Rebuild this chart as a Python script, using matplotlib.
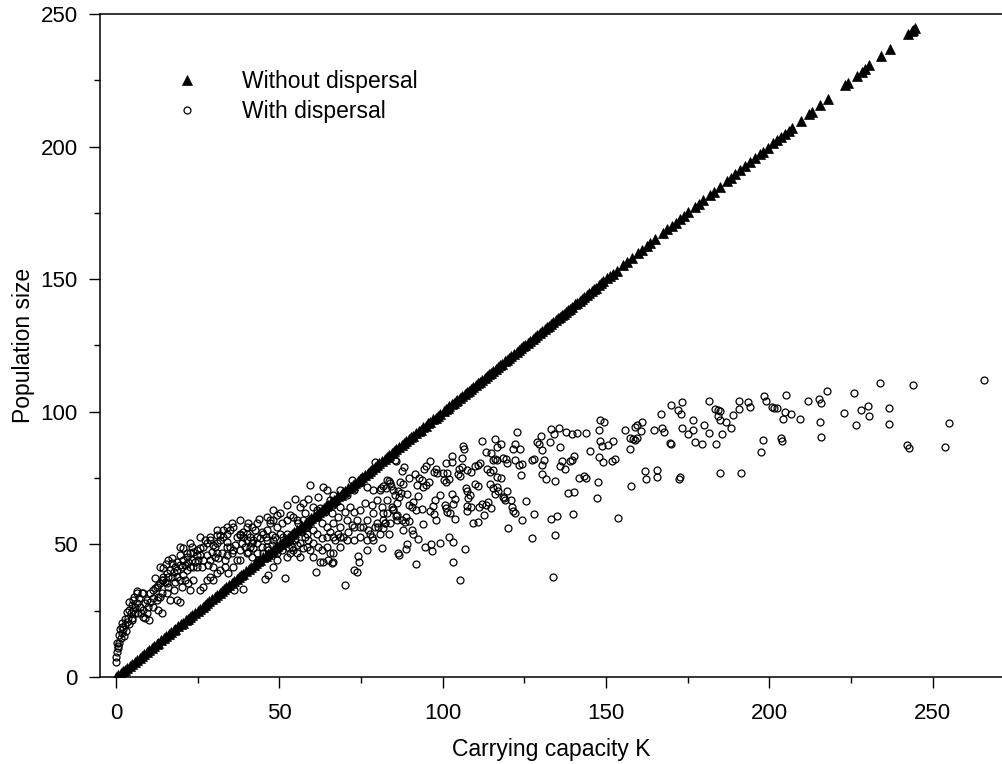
import matplotlib
matplotlib.use("Agg")
import matplotlib.pyplot as plt
from matplotlib.ticker import MultipleLocator

plt.rcParams["font.family"] = ["Liberation Sans", "DejaVu Sans"]

# Without dispersal: population sits on the K line
k_without = [
    0.0, 0.6, 1.4, 2.1, 2.7, 3.5, 4.3, 4.9, 5.8, 6.4,
    7.2, 8.0, 8.5, 9.4, 10.1, 10.9, 11.5, 12.4, 13.0, 13.9,
    14.6, 15.3, 16.1, 16.8, 17.6, 18.2, 19.1, 19.8, 20.5, 21.3,
    22.0, 22.8, 23.4, 24.3, 25.0, 25.7, 26.5, 27.2, 28.0, 28.6,
    29.5, 30.2, 30.9, 31.7, 32.4, 33.2, 33.8, 34.7, 35.4, 36.1,
    36.9, 37.6, 38.4, 39.0, 39.9, 40.6, 41.3, 42.1, 42.8, 43.6,
    44.2, 45.1, 45.8, 46.5, 47.3, 48.0, 48.8, 49.4, 50.3, 51.0,
    51.7, 52.5, 53.2, 54.0, 54.6, 55.5, 56.2, 56.9, 57.7, 58.4,
    59.2, 59.8, 60.7, 61.4, 62.1, 62.9, 63.6, 64.4, 65.0, 65.9,
    66.6, 67.3, 68.1, 68.8, 69.6, 70.2, 71.1, 71.8, 72.5, 73.3,
    74.0, 74.8, 75.4, 76.3, 77.0, 77.7, 78.5, 79.2, 80.0, 80.6,
    81.5, 82.2, 82.9, 83.7, 84.4, 85.2, 85.8, 86.7, 87.4, 88.1,
    88.9, 89.6, 90.4, 91.0, 91.9, 92.6, 93.3, 94.1, 94.8, 95.6,
    96.2, 97.1, 97.8, 98.5, 99.3,
    100.9, 102.0, 103.4, 104.5, 105.3, 106.8, 107.9, 108.7, 110.2, 111.3,
    112.1, 113.6, 114.8, 115.5, 117.0, 118.2, 119.1, 120.4, 121.7, 122.6,
    124.0, 125.3, 126.1, 127.5, 128.9, 129.8, 131.2, 132.4, 133.1, 134.7,
    135.9, 137.0, 138.2, 139.6, 140.5, 141.9, 143.3, 144.1, 145.6, 146.8,
    147.7, 149.2, 151.2, 152.0, 153.2, 155.3, 156.4, 157.8, 159.9, 161.0,
    162.4, 163.6, 165.0, 167.5, 168.8, 170.1, 171.3, 172.6, 174.0, 175.2,
    177.2, 178.5, 179.8, 181.8, 183.0, 184.9, 186.9, 188.2, 189.5, 191.0,
    192.5, 194.1, 195.6, 197.1, 198.1, 199.6, 201.2, 202.3, 203.7, 204.8,
    206.0, 207.0, 209.7, 212.1, 213.0, 215.5, 217.8, 223.1, 224.0, 226.7,
    228.2, 229.3, 230.6, 234.3, 236.9, 242.5, 243.5, 243.9, 244.6,
    100.3, 101.5, 102.8, 104.0, 106.0, 107.3, 109.4, 110.8, 112.8, 114.2,
    116.2, 117.6, 119.7, 121.0, 123.3, 124.7, 126.8, 128.2, 130.5, 131.8,
    133.9, 135.2, 136.4, 137.6, 138.9, 141.2, 142.6, 144.8, 146.2, 148.4,
    150.3,
]
pop_without = [
    0.0, 0.6, 1.4, 2.1, 2.7, 3.5, 4.3, 4.9, 5.8, 6.4,
    7.2, 8.0, 8.5, 9.4, 10.1, 10.9, 11.5, 12.4, 13.0, 13.9,
    14.6, 15.3, 16.1, 16.8, 17.6, 18.2, 19.1, 19.8, 20.5, 21.3,
    22.0, 22.8, 23.4, 24.3, 25.0, 25.7, 26.5, 27.2, 28.0, 28.6,
    29.5, 30.2, 30.9, 31.7, 32.4, 33.2, 33.8, 34.7, 35.4, 36.1,
    36.9, 37.6, 38.4, 39.0, 39.9, 40.6, 41.3, 42.1, 42.8, 43.6,
    44.2, 45.1, 45.8, 46.5, 47.3, 48.0, 48.8, 49.4, 50.3, 51.0,
    51.7, 52.5, 53.2, 54.0, 54.6, 55.5, 56.2, 56.9, 57.7, 58.4,
    59.2, 59.8, 60.7, 61.4, 62.1, 62.9, 63.6, 64.4, 65.0, 65.9,
    66.6, 67.3, 68.1, 68.8, 69.6, 70.2, 71.1, 71.8, 72.5, 73.3,
    74.0, 74.8, 75.4, 76.3, 77.0, 77.7, 78.5, 79.2, 80.0, 80.6,
    81.5, 82.2, 82.9, 83.7, 84.4, 85.2, 85.8, 86.7, 87.4, 88.1,
    88.9, 89.6, 90.4, 91.0, 91.9, 92.6, 93.3, 94.1, 94.8, 95.6,
    96.2, 97.1, 97.8, 98.5, 99.3,
    100.9, 102.0, 103.4, 104.5, 105.3, 106.8, 107.9, 108.7, 110.2, 111.3,
    112.1, 113.6, 114.8, 115.5, 117.0, 118.2, 119.1, 120.4, 121.7, 122.6,
    124.0, 125.3, 126.1, 127.5, 128.9, 129.8, 131.2, 132.4, 133.1, 134.7,
    135.9, 137.0, 138.2, 139.6, 140.5, 141.9, 143.3, 144.1, 145.6, 146.8,
    147.7, 149.2, 151.2, 152.0, 153.2, 155.3, 156.4, 157.8, 159.9, 161.0,
    162.4, 163.6, 165.0, 167.5, 168.8, 170.1, 171.3, 172.6, 174.0, 175.2,
    177.2, 178.5, 179.8, 181.8, 183.0, 184.9, 186.9, 188.2, 189.5, 191.0,
    192.5, 194.1, 195.6, 197.1, 198.1, 199.6, 201.2, 202.3, 203.7, 204.8,
    206.0, 207.0, 209.7, 212.1, 213.0, 215.5, 217.8, 223.1, 224.0, 226.7,
    228.2, 229.3, 230.6, 234.3, 236.9, 242.5, 243.5, 243.9, 244.6,
    100.3, 101.5, 102.8, 104.0, 106.0, 107.3, 109.4, 110.8, 112.8, 114.2,
    116.2, 117.6, 119.7, 121.0, 123.3, 124.7, 126.8, 128.2, 130.5, 131.8,
    133.9, 135.2, 136.4, 137.6, 138.9, 141.2, 142.6, 144.8, 146.2, 148.4,
    150.3,
]

# With dispersal: scattered cloud
k_with = [
    -0.1, 0.0, 0.4, 0.7, 1.0, 1.4, 1.7, 2.2, 1.8, 2.8,
    3.3, 3.8, 4.5, 4.1, 5.3, 5.8, 6.3, 7.1, 7.9, 6.8,
    8.4, 9.4, 10.2, 8.9, 8.2, 7.6, 0.3, 0.9, 1.2, 0.6,
    1.9, 2.6, 3.5, 4.8, 2.4, 3.1, 4.0, 5.0, 5.6, 6.5,
    3.9, 10.4, 11.4, 12.4, 13.5, 14.0, 14.5, 15.5, 16.5, 14.3,
    15.3, 17.0, 18.6, 19.6, 20.6, 21.6, 22.7, 23.7, 24.7, 25.7,
    26.7, 27.8, 28.8, 29.8, 30.8, 31.8, 32.9, 33.9, 34.9, 35.9,
    36.9, 38.0, 39.0, 40.0, 41.0, 42.0, 43.1, 44.1, 45.1, 46.1,
    47.1, 48.2, 49.2, 50.2, 51.2, 11.4, 13.0, 14.0, 15.5, 16.5,
    17.6, 18.8, 19.6, 20.1, 21.1, 22.1, 22.7, 23.7, 25.7, 26.7,
    27.8, 28.8, 29.8, 30.8, 31.8, 33.4, 34.4, 35.9, 36.1, 39.0,
    38.0, 40.0, 41.5, 43.1, 44.6, 45.6, 46.6, 48.2, 49.2, 51.7,
    50.2, 52.2, 53.3, 54.3, 55.3, 56.3, 57.3, 58.4, 59.4, 60.4,
    61.2, 63.5, 65.0, 66.0, 66.5, 68.6, 70.1, 72.7, 74.5, 74.2,
    76.7, 20.6, 27.2, 28.8, 31.8, 32.9, 35.4, 38.0, 39.0, 40.5,
    43.9, 44.7, 45.8, 47.1, 48.2, 49.2, 52.2, 53.3, 54.3, 54.8,
    56.3, 57.3, 58.9, 59.4, 60.4, 61.9, 62.4, 63.5, 64.5, 66.5,
    68.6, 70.6, 72.1, 72.7, 74.7, 75.7, 76.7, 78.8, 79.3, 80.8,
    81.8, 82.9, 83.9, 85.4, 84.9, 85.4, 85.9, 85.9, 64.5, 66.5,
    68.6, 70.6, 72.7, 74.7, 76.7, 77.8, 78.8, 79.8, 80.8, 81.8,
    82.9, 83.9, 84.9, 85.9, 66.5, 68.6, 70.6, 72.7, 74.7, 76.7,
    61.4, 63.0, 64.5, 65.5, 62.4, 66.5, 73.7, 79.3, 82.3, 86.2,
    81.3, 78.8, 41.5, 42.6, 50.7, 55.3, 57.3, 58.4, 60.4, 61.4,
    56.3, 52.2, 53.3, 48.2, 46.1, 41.0, 35.9, 33.9, 30.8, 28.8,
    24.7, 22.7, 21.6, 18.6, 18.1, 15.5, 13.5, 12.4, 9.4, 9.9,
    8.4, 6.3, 5.3,
    14.5, 16.0, 18.6, 21.6, 23.2, 24.7, 25.7, 27.8, 29.3, 30.3,
    31.3, 32.3, 33.9, 35.4, 36.9, 38.0, 39.5, 40.5, 42.0, 43.6,
    45.1, 46.6, 47.7, 49.2, 50.7, 52.2, 53.8, 55.3, 56.3, 57.9,
    58.9, 60.4, 61.9, 63.0, 64.5, 65.5, 67.0, 68.1, 69.6, 71.1,
    72.1, 73.7, 75.7, 77.2, 78.3, 80.3, 81.8, 83.5, 30.8, 33.9,
    26.7, 23.7, 20.6, 19.6, 17.6, 16.0, 14.0, 13.0, 11.4, 10.4,
    8.9, 7.3, 5.8, 4.8, 23.2, 19.6, 17.0,
    11.9, 13.0, 15.0, 17.0, 18.1, 20.1, 21.1, 22.1, 24.2, 25.2,
    26.2, 28.3, 29.8, 30.3, 33.4, 34.9, 36.4, 38.5, 40.0, 41.5,
    43.1, 46.1, 47.7, 48.7, 51.2, 52.8, 54.8, 56.8, 58.4, 59.9,
    63.0, 64.0, 66.0, 68.1, 70.1, 71.6, 72.7, 74.7, 76.2, 78.3,
    79.8, 81.3, 82.9, 84.4, 68.6, 66.5, 65.5, 61.4, 57.9, 55.8,
    52.2, 50.2, 46.1, 43.1, 40.0, 38.0, 33.9, 30.8, 25.7, 22.7,
    19.6, 16.0, 13.5, 11.9,
    85.6, 88.2, 87.5, 83.7, 81.2, 82.6, 84.3, 86.9, 87.7, 86.3,
    87.3, 86.7, 89.1, 89.7, 91.4, 92.8, 93.7, 95.0, 95.8, 94.1,
    94.4, 94.9, 96.1, 97.3, 97.9, 98.1, 100.3, 100.9, 100.2, 101.1,
    102.7, 102.7, 101.3, 101.8, 104.7, 105.3, 105.0, 105.8, 106.2, 106.4,
    105.9, 107.5, 108.8, 109.8, 110.8, 111.4, 112.1, 113.1, 114.8, 116.0,
    117.8, 116.5, 115.5, 116.0, 116.7, 118.6, 119.5, 119.6, 113.6, 114.5,
    115.5, 116.7, 117.9, 109.8, 110.7, 107.1, 107.5, 114.5, 115.3, 116.7,
    116.1, 117.0, 118.5, 118.8, 119.1, 120.8, 121.1, 121.4, 122.2, 119.6,
    125.4, 124.4, 119.9, 111.9, 111.0, 113.2, 114.0, 114.8, 109.4, 110.9,
    112.7, 106.8, 103.0, 105.2, 102.0, 103.3, 107.7, 107.3, 108.5, 107.5,
    108.8, 102.7, 103.8, 103.0, 100.6, 101.2, 102.2, 103.8, 101.0, 99.2,
    97.6, 96.9, 96.1, 97.3, 98.0, 99.2, 96.4, 96.8, 94.7, 91.8,
    86.6, 88.7, 89.2, 92.4, 90.8, 90.5, 87.9, 89.7, 87.5, 88.5,
    88.9, 84.9, 85.6, 81.8, 82.3, 89.8, 90.6, 91.0, 91.8, 93.6,
    93.9, 92.5, 92.2, 122.8, 122.1, 123.7, 121.4, 122.0, 123.4, 124.4,
    123.9, 127.3, 127.9, 128.9, 129.5, 130.0, 130.5, 131.1, 130.3, 130.4,
    131.6, 134.3, 133.2, 134.1, 135.5, 132.8, 135.8, 136.6, 135.9, 137.4,
    139.0, 139.5, 140.2, 137.8, 139.5, 141.0, 143.9, 138.4, 140.1, 140.0,
    133.1, 134.9, 134.3, 133.8, 127.3, 127.9, 141.8, 143.1, 144.0, 145.0,
    147.6, 147.2, 147.8, 148.1, 149.4, 148.1, 148.9, 150.7, 152.2, 147.9,
    149.1, 151.9, 152.7, 153.7, 155.8, 157.3, 158.1, 158.9, 159.5, 158.9,
    159.5, 160.9, 160.6, 157.3, 157.5, 161.9, 162.1, 165.7, 165.7, 164.7,
    166.9, 169.9, 172.1, 173.3, 173.0, 167.0, 167.7, 173.2, 176.7, 176.7,
    175.1, 169.6, 169.8, 177.3, 179.4, 180.0, 181.4, 181.6, 183.4, 185.0,
    184.2, 184.4, 184.9, 186.8, 188.1, 185.5, 183.5, 188.9, 190.6, 190.7,
    193.4, 194.2, 184.9, 191.4, 172.3, 172.7, 198.4, 198.9,
    200.8, 201.4, 202.2, 205.1, 204.8, 206.7, 204.3, 198.0, 197.3, 203.4,
    203.9, 209.4, 211.9, 215.2, 215.7, 217.5, 215.4, 215.7, 222.9, 225.9,
    227.9, 230.3, 230.4, 226.5, 233.9, 236.5, 236.7, 242.2, 242.8, 243.9,
    253.6, 255.0, 265.8,
]
pop_with = [
    5.8, 7.7, 9.5, 10.8, 12.7, 14.6, 16.5, 18.0, 19.0, 19.6,
    20.9, 22.1, 24.0, 25.3, 25.3, 26.5, 28.0, 29.6, 31.5, 24.0,
    25.3, 24.0, 21.5, 22.1, 22.7, 24.0, 13.0, 16.0, 18.2, 11.7,
    20.5, 21.8, 24.5, 27.0, 15.3, 17.4, 19.8, 22.4, 30.0, 32.3,
    28.4, 31.5, 32.8, 34.0, 35.3, 36.6, 37.8, 39.1, 40.3, 41.0,
    42.6, 42.8, 43.5, 42.2, 44.1, 45.4, 46.6, 47.2, 47.9, 46.0,
    49.1, 50.4, 51.6, 49.7, 50.4, 51.6, 52.9, 54.1, 55.4, 56.7,
    52.9, 54.1, 52.9, 54.1, 52.9, 51.6, 50.4, 52.3, 54.1, 55.4,
    57.9, 59.2, 56.7, 54.1, 52.9, 26.5, 25.3, 24.0, 31.5, 29.0,
    32.8, 29.0, 28.4, 34.0, 36.6, 35.3, 32.8, 36.6, 32.8, 34.0,
    36.6, 37.8, 36.6, 39.1, 40.3, 41.6, 39.1, 41.6, 32.8, 33.0,
    44.1, 46.6, 45.4, 46.6, 49.1, 36.8, 38.4, 41.6, 44.1, 37.2,
    49.1, 45.4, 46.6, 47.9, 49.7, 50.4, 48.5, 49.1, 47.9, 45.4,
    39.7, 43.5, 44.1, 42.8, 46.6, 49.1, 34.7, 40.3, 43.5, 45.6,
    47.9, 48.5, 51.6, 52.9, 53.5, 55.4, 57.9, 53.5, 54.8, 58.2,
    59.4, 54.8, 52.9, 59.2, 62.9, 61.1, 64.8, 61.1, 60.4, 67.3,
    64.2, 65.7, 67.3, 72.4, 64.2, 68.0, 63.6, 71.7, 70.5, 68.6,
    70.5, 68.6, 74.2, 70.5, 73.0, 75.5, 71.7, 70.5, 81.2, 70.5,
    72.0, 74.2, 73.0, 81.8, 70.5, 68.6, 65.5, 61.1, 56.7, 57.9,
    56.7, 59.2, 56.7, 56.7, 59.2, 54.1, 61.7, 57.9, 54.1, 59.2,
    61.7, 57.9, 62.9, 59.2, 52.9, 52.9, 51.6, 51.6, 52.9, 51.6,
    54.1, 52.3, 49.1, 46.6, 43.5, 43.5, 39.7, 56.7, 57.9, 46.6,
    48.5, 51.6, 56.7, 55.4, 57.9, 59.2, 59.2, 56.7, 55.4, 60.4,
    55.4, 54.1, 51.6, 51.6, 49.1, 49.1, 47.9, 49.1, 46.6, 44.1,
    41.6, 41.6, 40.3, 37.8, 35.9, 35.3, 30.3, 29.0, 29.0, 26.5,
    31.5, 31.5, 29.0,
    36.6, 37.8, 40.3, 46.6, 44.1, 46.0, 48.5, 46.0, 47.2, 49.1,
    44.7, 46.6, 46.0, 46.6, 44.1, 47.9, 49.1, 47.2, 48.5, 44.1,
    46.6, 47.9, 49.7, 46.6, 47.9, 50.4, 49.1, 46.6, 45.4, 52.9,
    51.6, 50.4, 49.1, 47.9, 52.9, 54.8, 51.6, 54.1, 52.9, 54.8,
    57.3, 59.2, 56.7, 55.4, 52.9, 56.7, 56.0, 54.1, 53.5, 51.0,
    44.1, 41.6, 38.4, 36.6, 39.7, 34.0, 31.5, 30.3, 29.6, 28.4,
    27.8, 26.5, 24.0, 21.5, 49.1, 46.0, 44.7,
    33.4, 34.7, 35.9, 37.8, 41.6, 41.6, 42.2, 43.5, 43.5, 44.1,
    41.6, 42.2, 41.6, 45.4, 44.1, 49.1, 49.7, 50.4, 51.6, 50.4,
    52.9, 51.6, 53.5, 52.9, 50.4, 48.5, 51.6, 54.8, 54.1, 59.2,
    57.9, 62.3, 61.7, 60.4, 62.3, 64.2, 62.3, 62.9, 65.5, 64.8,
    66.7, 64.2, 66.7, 64.2, 64.2, 64.8, 66.7, 62.9, 61.7, 57.9,
    59.2, 61.7, 60.4, 57.9, 56.7, 59.2, 56.7, 55.4, 52.9, 50.4,
    49.1, 44.1, 41.6, 37.2,
    81.5, 79.0, 77.6, 74.0, 71.1, 71.4, 72.0, 73.6, 72.9, 70.1,
    69.5, 68.0, 69.1, 75.1, 76.4, 75.1, 74.3, 72.4, 73.6, 71.6,
    78.6, 79.5, 81.3, 77.4, 78.3, 77.1, 74.3, 73.6, 76.8, 80.7,
    81.2, 83.3, 76.8, 74.8, 76.4, 75.8, 78.4, 79.0, 87.2, 85.9,
    82.5, 78.2, 77.4, 79.5, 79.9, 80.8, 89.1, 84.8, 84.5, 89.6,
    88.0, 86.7, 81.8, 82.2, 81.8, 82.7, 82.1, 80.6, 78.6, 77.4,
    78.0, 75.5, 75.1, 72.7, 72.0, 71.1, 70.2, 72.7, 71.1, 71.7,
    69.1, 70.1, 68.0, 67.4, 66.8, 66.8, 64.0, 62.7, 61.9, 70.1,
    66.4, 59.2, 56.1, 65.4, 64.0, 65.0, 65.9, 63.7, 58.2, 58.6,
    61.1, 48.4, 43.3, 36.7, 52.9, 50.9, 67.6, 64.5, 68.6, 62.6,
    64.2, 69.0, 67.2, 65.2, 64.8, 62.2, 61.9, 59.6, 63.7, 68.8,
    66.7, 64.6, 62.6, 61.6, 59.3, 50.6, 50.0, 47.6, 49.1, 42.6,
    46.1, 48.2, 50.3, 52.0, 53.9, 55.6, 55.4, 58.8, 59.3, 58.6,
    60.4, 63.2, 60.7, 61.9, 57.9, 64.8, 64.2, 66.1, 62.9, 63.5,
    57.8, 68.2, 72.5, 92.5, 88.0, 86.1, 85.9, 81.8, 80.0, 80.4,
    76.3, 82.0, 82.2, 88.6, 88.0, 90.9, 85.6, 81.8, 79.9, 76.6,
    74.6, 73.8, 93.4, 91.8, 94.0, 88.6, 86.6, 81.4, 79.5, 78.5,
    81.5, 82.0, 83.4, 92.2, 91.8, 92.0, 92.0, 69.5, 69.7, 61.6,
    59.7, 60.6, 53.7, 37.7, 52.5, 61.6, 75.2, 75.7, 74.9, 85.1,
    73.4, 67.6, 93.2, 96.9, 96.1, 89.0, 87.1, 87.4, 89.0, 83.1,
    81.2, 81.5, 82.2, 59.9, 93.1, 90.0, 89.6, 89.3, 90.3, 94.3,
    95.0, 96.0, 92.7, 85.8, 72.1, 77.8, 74.6, 78.2, 75.5, 93.3,
    99.0, 102.4, 100.5, 103.8, 99.0, 94.0, 92.5, 93.8, 96.9, 93.3,
    91.5, 88.4, 88.0, 88.7, 87.7, 95.2, 91.9, 104.2, 101.1, 100.3,
    100.5, 98.4, 96.9, 96.0, 93.8, 91.8, 87.8, 98.8, 101.0, 104.2,
    103.8, 101.8, 77.0, 76.9, 74.6, 75.4, 106.1, 104.0,
    101.8, 101.5, 101.3, 106.4, 100.0, 99.0, 97.2, 89.4, 84.8, 90.2,
    89.1, 97.4, 104.2, 104.8, 103.4, 108.0, 96.1, 90.5, 99.5, 107.1,
    100.8, 102.3, 98.5, 94.9, 110.9, 101.3, 95.5, 87.6, 86.2, 110.2,
    86.6, 95.8, 111.9,
]

x_ticks = [0, 50, 100, 150, 200, 250]
y_ticks = [0, 50, 100, 150, 200, 250]

fig = plt.figure(figsize=(10.03, 7.64), dpi=100)
ax = fig.add_axes([0.0997, 0.1139, 0.9003, 0.8678])

circ, = ax.plot(k_with, pop_with, linestyle="none", marker="o", ms=5.0,
                mfc="none", mec="black", mew=0.9, label="With dispersal")
tri, = ax.plot(k_without, pop_without, linestyle="none", marker="^", ms=6.6,
               color="black", mec="black", mew=0.5, label="Without dispersal")

ax.set_xlim(-4.9, 271.5)
ax.set_ylim(0, 250)
ax.set_xticks(x_ticks)
ax.set_yticks(y_ticks)
ax.xaxis.set_minor_locator(MultipleLocator(25))
ax.yaxis.set_minor_locator(MultipleLocator(25))
ax.tick_params(which="major", direction="out", length=8, width=1,
               labelsize=16, colors="black")
ax.tick_params(which="minor", direction="out", length=4.3, width=1)
ax.tick_params(axis="x", which="major", pad=10.5)
ax.tick_params(axis="y", which="major", pad=8)

ax.spines["right"].set_visible(False)
for s in ("left", "top", "bottom"):
    ax.spines[s].set_linewidth(1.1)

ax.set_xlabel("Carrying capacity K", fontsize=16.5, labelpad=10)
ax.set_ylabel("Population size", fontsize=16.5, labelpad=4)

ax.legend([tri, circ], ["Without dispersal", "With dispersal"],
          loc="upper left", bbox_to_anchor=(0.0836, 0.915), frameon=False,
          fontsize=16.5, handlelength=1.0, handletextpad=1.9, borderpad=0,
          borderaxespad=0, labelspacing=0.3, numpoints=1)

fig.savefig("out.png", dpi=100)
